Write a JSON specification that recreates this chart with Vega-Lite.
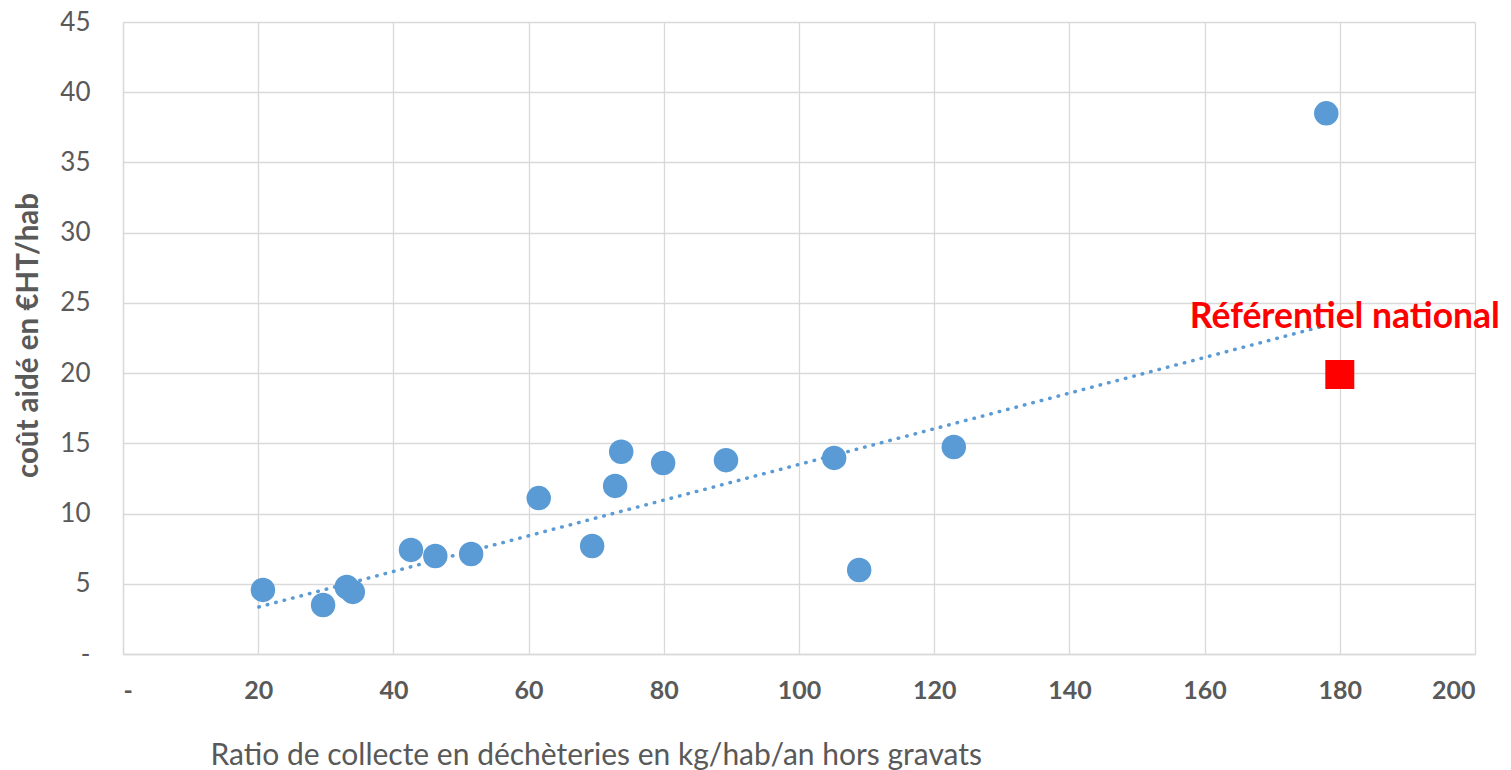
{
  "$schema": "https://vega.github.io/schema/vega-lite/v6.json",
  "width": 1352,
  "height": 632,
  "autosize": {"type": "none"},
  "padding": {"left": 123, "top": 22, "right": 36, "bottom": 116},
  "background": "white",
  "config": {
    "view": {"stroke": null},
    "font": "Lato",
    "axis": {
      "gridColor": "#D9D9D9",
      "gridWidth": 1.3,
      "domainColor": "#D9D9D9",
      "domainWidth": 1.3,
      "ticks": false,
      "labelColor": "#595959",
      "titleColor": "#595959",
      "labelFont": "Lato",
      "titleFont": "Lato"
    }
  },
  "datasets": {
    "points": [
      {"ratio": 20.7, "cout": 4.56},
      {"ratio": 29.6, "cout": 3.49},
      {"ratio": 33.1, "cout": 4.77},
      {"ratio": 34.0, "cout": 4.42},
      {"ratio": 42.6, "cout": 7.41},
      {"ratio": 46.2, "cout": 6.98},
      {"ratio": 51.5, "cout": 7.12},
      {"ratio": 61.5, "cout": 11.1},
      {"ratio": 69.4, "cout": 7.69},
      {"ratio": 72.8, "cout": 11.97},
      {"ratio": 73.7, "cout": 14.4},
      {"ratio": 79.9, "cout": 13.6},
      {"ratio": 89.2, "cout": 13.8},
      {"ratio": 105.2, "cout": 13.96},
      {"ratio": 108.9, "cout": 5.98},
      {"ratio": 122.9, "cout": 14.74},
      {"ratio": 178.0, "cout": 38.5}
    ],
    "trend": [
      {"ratio": 20.1, "cout": 3.35},
      {"ratio": 178.0, "cout": 23.4}
    ],
    "ref": [
      {"ratio": 180, "cout": 19.9, "label": "Référentiel national"}
    ]
  },
  "layer": [
    {
      "data": {"name": "trend"},
      "mark": {"type": "line", "color": "#5B9BD5", "strokeWidth": 3.5, "strokeDash": [0.5, 8.2], "strokeCap": "round"},
      "encoding": {
        "x": {
          "field": "ratio", "type": "quantitative",
          "scale": {"domain": [0, 200], "nice": false},
          "axis": {
            "values": [0, 20, 40, 60, 80, 100, 120, 140, 160, 180, 200],
            "labelExpr": "datum.value == 0 ? '-' : datum.label",
            "labelFontSize": 25,
            "labelFontWeight": "bold",
            "labelPadding": 24,
            "title": "Ratio de collecte en déchèteries en kg/hab/an hors gravats",
            "titleFontSize": 30,
            "titleFontWeight": "normal",
            "titleAnchor": "start",
            "titleAlign": "left",
            "titleX": 87,
            "titleY": 110,
            "titleBaseline": "alphabetic"
          }
        },
        "y": {
          "field": "cout", "type": "quantitative",
          "scale": {"domain": [0, 45], "nice": false},
          "axis": {
            "values": [0, 5, 10, 15, 20, 25, 30, 35, 40, 45],
            "labelExpr": "datum.value == 0 ? '-' : datum.label",
            "labelFontSize": 26,
            "labelPadding": 33,
            "title": "coût aidé en €HT/hab",
            "titleFontSize": 29.5,
            "titleFontWeight": "bold",
            "titleX": -95,
            "titleY": 313,
            "titleAlign": "center",
            "titleBaseline": "middle",
            "titleAngle": -90
          }
        }
      }
    },
    {
      "data": {"name": "points"},
      "mark": {"type": "circle", "color": "#5B9BD5", "opacity": 1, "size": 600},
      "encoding": {
        "x": {"field": "ratio", "type": "quantitative"},
        "y": {"field": "cout", "type": "quantitative"}
      }
    },
    {
      "data": {"name": "ref"},
      "mark": {"type": "square", "color": "#FF0000", "opacity": 1, "size": 840, "filled": true, "cornerRadius": 2},
      "encoding": {
        "x": {"field": "ratio", "type": "quantitative"},
        "y": {"field": "cout", "type": "quantitative"}
      }
    },
    {
      "data": {"name": "ref"},
      "mark": {"type": "text", "color": "#FF0000", "fontSize": 35.5, "fontWeight": "bold", "align": "left", "baseline": "alphabetic", "dx": -150, "dy": -47, "font": "Lato"},
      "encoding": {
        "x": {"field": "ratio", "type": "quantitative"},
        "y": {"field": "cout", "type": "quantitative"},
        "text": {"field": "label"}
      }
    }
  ]
}
